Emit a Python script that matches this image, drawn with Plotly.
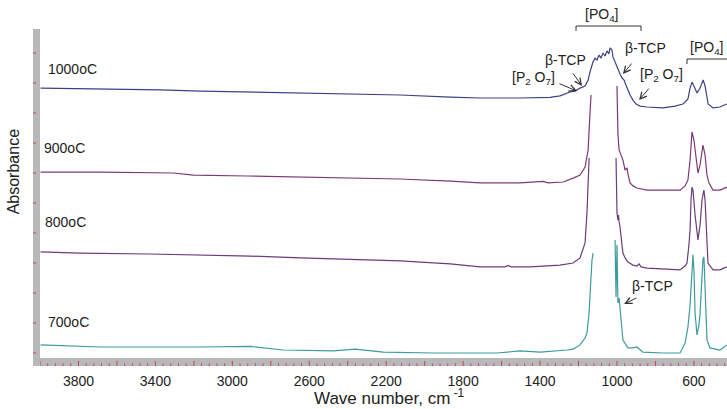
import plotly.graph_objects as go

# FTIR spectra of the calcined powder, stacked by calcination temperature.
# Wavenumber in cm-1, absorbance in arbitrary stacked units. None = off-scale region.
wn_1000 = [3997, 3842, 3649, 3374, 3166, 2906, 2647, 2387, 2127, 1867, 1712, 1504, 1384, 1348,
           1296, 1244, 1218, 1192, 1166, 1150, 1140, 1125, 1114, 1104, 1093, 1083, 1073, 1062,
           1052, 1042, 1036, 1026, 1021, 1010, 995, 984, 974, 963, 958, 948, 932, 917, 901,
           880, 844, 761, 698, 657, 631, 620, 610, 600, 584, 568, 552, 542, 526, 500, 465, 429]
ab_1000 = [0.983, 0.982, 0.980, 0.977, 0.973, 0.970, 0.967, 0.963, 0.960, 0.953, 0.950, 0.950,
           0.953, 0.952, 0.957, 0.970, 0.973, 0.983, 0.990, 1.010, 1.037, 1.070, 1.083, 1.077,
           1.093, 1.083, 1.100, 1.090, 1.107, 1.097, 1.117, 1.110, 1.087, 1.070, 1.043, 1.030,
           1.017, 1.010, 1.000, 0.983, 0.960, 0.943, 0.930, 0.923, 0.920, 0.917, 0.923, 0.930,
           0.947, 0.983, 1.003, 0.990, 0.967, 0.983, 1.010, 0.990, 0.930, 0.917, 0.920, 0.930]

wn_900 = [3997, 3686, 3306, 3202, 2922, 2647, 2387, 2127, 1867, 1712, 1504, 1384, 1358, 1280,
          1228, 1192, 1166, 1150, 1145, 1140, 1135, None, 1000, 997, 995, 989, 984, 969, 958,
          948, 943, 932, 917, 896, 844, 672, 646, 631, 620, 615, 610, 600, 589, 579, 568, 558,
          553, 542, 532, 522, 501, 465, 429]
ab_900 = [0.703, 0.703, 0.700, 0.693, 0.690, 0.687, 0.683, 0.680, 0.673, 0.667, 0.667, 0.672,
          0.667, 0.670, 0.683, 0.693, 0.720, 0.777, 0.843, 0.910, 0.960, None, 0.990, 0.910,
          0.827, 0.777, 0.767, 0.743, 0.710, 0.717, 0.697, 0.667, 0.657, 0.650, 0.643, 0.643,
          0.657, 0.677, 0.743, 0.810, 0.837, 0.810, 0.743, 0.700, 0.727, 0.777, 0.793, 0.760,
          0.693, 0.667, 0.643, 0.643, 0.653]

wn_800 = [3997, 3795, 3431, 3166, 2906, 2647, 2387, 2127, 1867, 1712, 1582, 1566, 1550, 1452,
          1296, 1228, 1192, 1166, 1156, 1150, 1145, None, 1005, 1002, 1000, 995, 992, 989, 984,
          974, 969, 958, 943, 917, 896, 885, 875, 844, 672, 646, 636, 626, 620, 615, 610, 605,
          594, 579, 568, 558, 548, 542, 532, 527, 501, 465, 429]
ab_800 = [0.437, 0.433, 0.430, 0.427, 0.423, 0.417, 0.413, 0.407, 0.397, 0.387, 0.387, 0.392,
          0.387, 0.387, 0.393, 0.400, 0.417, 0.467, 0.567, 0.660, 0.750, None, 0.750, 0.643,
          0.567, 0.543, 0.560, 0.537, 0.520, 0.460, 0.433, 0.417, 0.403, 0.393, 0.390, 0.397,
          0.387, 0.383, 0.377, 0.390, 0.400, 0.460, 0.510, 0.610, 0.653, 0.643, 0.560, 0.477,
          0.527, 0.610, 0.643, 0.610, 0.477, 0.400, 0.377, 0.377, 0.387]

wn_700 = [3997, 3686, 3166, 2906, 2735, 2475, 2361, 2215, 1956, 1623, 1504, 1400, 1260, 1228,
          1192, 1166, 1156, 1145, 1140, 1135, 1130, 1124, None, 1010, 1005, 1000, 995, 989, 984,
          974, 969, 943, 917, 896, 865, 761, 672, 646, 631, 620, 610, 605, 600, 594, 584, 574,
          568, 558, 553, 548, 542, 532, 517, 465, 429]
ab_700 = [0.127, 0.120, 0.120, 0.122, 0.110, 0.107, 0.113, 0.103, 0.100, 0.100, 0.107, 0.103,
          0.110, 0.113, 0.127, 0.150, 0.167, 0.233, 0.293, 0.360, 0.410, 0.433, None, 0.477,
          0.287, 0.460, 0.267, 0.283, 0.243, 0.177, 0.143, 0.117, 0.117, 0.120, 0.103, 0.100,
          0.100, 0.133, 0.187, 0.260, 0.377, 0.427, 0.377, 0.233, 0.160, 0.193, 0.233, 0.343,
          0.413, 0.420, 0.287, 0.143, 0.117, 0.110, 0.127]

spectra = [
    ("1000oC", wn_1000, ab_1000, "#3f3f86", 3971, 1.047),
    ("900oC", wn_900, ab_900, "#7b3b72", 3990, 0.783),
    ("800oC", wn_800, ab_800, "#6a3c7c", 3982, 0.537),
    ("700oC", wn_700, ab_700, "#3d9b9b", 3971, 0.203),
]

x_tick_vals = [4000, 3800, 3600, 3400, 3200, 3000, 2800, 2600, 2400, 2200, 2000, 1800,
               1600, 1400, 1200, 1000, 800, 600]
x_tick_text = ["", "3800", "", "3400", "", "3000", "", "2600", "", "2200", "", "1800",
               "", "1400", "", "1000", "", "600"]
x_minor_step = 40
y_tick_vals = [0.1, 0.2, 0.3, 0.4, 0.5, 0.6, 0.7, 0.8, 0.9, 1.0, 1.1]

X_RANGE = [4000, 428]
Y_RANGE = [0.0833, 1.18]

FONT = "Arial, Liberation Sans, sans-serif"
TICK_RED = "#c8404f"
BAR_GREY = "#b8b8b8"

fig = go.Figure()

for name, wn, ab, color, lx, ly in spectra:
    fig.add_trace(go.Scatter(x=wn, y=ab, mode="lines", name=name,
                             line=dict(color=color, width=1.2), connectgaps=False,
                             showlegend=False, hoverinfo="skip"))

annotations = []
for name, wn, ab, color, lx, ly in spectra:
    annotations.append(dict(x=lx, y=ly, xref="x", yref="y", text=name, showarrow=False,
                            xanchor="left", yanchor="middle",
                            font=dict(family=FONT, size=14, color="#222")))

label_font = dict(family=FONT, size=14, color="#222")
# band labels
annotations += [
    dict(x=1083, y=1.042, xref="x", yref="paper", text="[PO<sub>4</sub>]", showarrow=False,
         font=label_font, xanchor="center", yanchor="middle"),
    dict(x=631, y=1.117, xref="x", yref="y", text="[PO<sub>4</sub>]", showarrow=False,
         font=label_font, xanchor="left", yanchor="middle"),
    dict(x=1267, y=1.077, xref="x", yref="y", text="β-TCP", showarrow=False,
         font=label_font, xanchor="center", yanchor="middle"),
    dict(x=1433, y=1.017, xref="x", yref="y", text="[P<sub>2</sub> O<sub>7</sub>]",
         showarrow=False, font=label_font, xanchor="center", yanchor="middle"),
    dict(x=854, y=1.117, xref="x", yref="y", text="β-TCP", showarrow=False,
         font=label_font, xanchor="center", yanchor="middle"),
    dict(x=766, y=1.027, xref="x", yref="y", text="[P<sub>2</sub> O<sub>7</sub>]",
         showarrow=False, font=label_font, xanchor="center", yanchor="middle"),
    dict(x=815, y=0.323, xref="x", yref="y", text="β-TCP", showarrow=False,
         font=label_font, xanchor="center", yanchor="middle"),
]
# arrows pointing at the shoulders
arrow_style = dict(xref="x", yref="y", text="", showarrow=True, arrowhead=5, arrowsize=1.3,
                   arrowwidth=1, arrowcolor="#333")
for tip_x, tip_y, dx, dy in [(1182, 0.990, -10, -14), (1208, 0.973, -19, -8),
                             (969, 1.030, 10, -12), (885, 0.943, 11, -13),
                             (963, 0.263, 14, -7)]:
    annotations.append(dict(x=tip_x, y=tip_y, ax=dx, ay=dy, **arrow_style))

# axis titles
annotations += [
    dict(x=0.509, y=-0.118, xref="paper", yref="paper", text="Wave number, cm<sup> -1</sup>",
         showarrow=False, font=dict(family=FONT, size=17, color="#222"),
         xanchor="center", yanchor="middle"),
    dict(x=-0.038, y=0.567, xref="paper", yref="paper", text="Absorbance", textangle=-90,
         showarrow=False, font=dict(family=FONT, size=16, color="#222"),
         xanchor="center", yanchor="middle"),
]

# red tick marks drawn over the thick grey axis lines
tick_line = dict(color=TICK_RED, width=1)
shapes = []
for v in x_tick_vals:
    shapes.append(dict(type="line", xref="x", yref="paper", x0=v, x1=v, y0=-0.0242,
                       y1=-0.0091, line=tick_line))
v = x_tick_vals[0] - x_minor_step
while v > X_RANGE[1]:
    if v % 200:
        shapes.append(dict(type="line", xref="x", yref="paper", x0=v, x1=v, y0=-0.0242,
                           y1=-0.0167, line=tick_line))
    v -= x_minor_step
for v in y_tick_vals:
    shapes.append(dict(type="line", xref="paper", yref="y", x0=-0.0102, x1=-0.0058,
                       y0=v, y1=v, line=tick_line))
# [PO4] brackets
shapes += [
    dict(type="path", xref="x", yref="paper",
         path="M 1213,0.994 L 1213,1.009 L 875,1.009 L 875,0.994",
         line=dict(color="#333", width=1)),
    dict(type="path", xref="x", yref="y",
         path="M 636,1.063 L 636,1.080 L 420,1.080",
         line=dict(color="#333", width=1)),
]

fig.update_layout(
    width=727, height=409,
    margin=dict(l=40, r=0, t=29, b=51),
    paper_bgcolor="white", plot_bgcolor="white",
    showlegend=False,
    annotations=annotations,
    shapes=shapes,
    xaxis=dict(range=X_RANGE, tickmode="array", tickvals=x_tick_vals, ticktext=x_tick_text,
               ticks="", showgrid=False, zeroline=False,
               showline=True, linecolor=BAR_GREY, linewidth=8,
               tickfont=dict(family=FONT, size=14, color="#222"), ticklabelstandoff=3),
    yaxis=dict(range=Y_RANGE, ticks="", showticklabels=False, showgrid=False,
               zeroline=False, showline=True, linecolor=BAR_GREY, linewidth=7),
)

fig.write_html("out.html")
